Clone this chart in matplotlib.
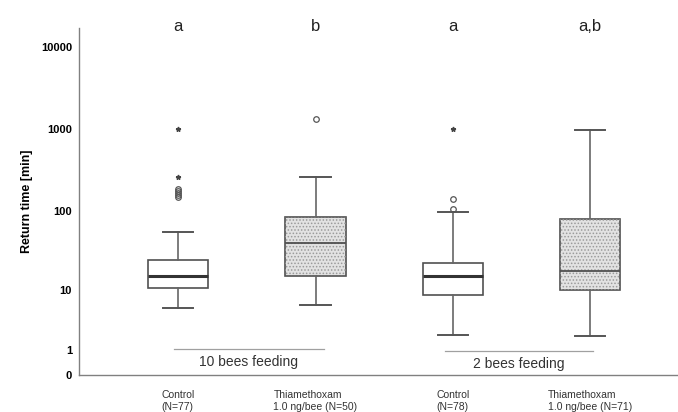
import numpy as np
import matplotlib
matplotlib.use("Agg")
import matplotlib.pyplot as plt
from matplotlib.patches import PathPatch
import matplotlib.transforms as mtransforms

plt.rcParams['font.family'] = ['Liberation Sans', 'DejaVu Sans']
plt.rcParams['hatch.linewidth'] = 0.7

# ---- data ----
categories = ["Control\n(N=77)", "Thiamethoxam\n1.0 ng/bee (N=50)",
              "Control\n(N=78)", "Thiamethoxam\n1.0 ng/bee (N=71)"]
whis_low = [5.5, 6.2, 2.06, 2.0]
q1 = [10.6, 15.1, 8.35, 10.0]
medians = [15.1, 40.0, 14.9, 17.3]
q3 = [24.1, 82.6, 22.5, 78.0]
whis_high = [55.0, 255.0, 95.0, 958.0]
outliers_circle = [[145, 155, 165, 175, 185], [1310], [104, 138], []]
outliers_star = [[255, 1000], [], [1000], []]
treated = [False, True, False, True]
letters = ["a", "b", "a", "a,b"]
groups = ["10 bees feeding", "2 bees feeding"]
group_span = [(0.97, 2.06), (2.94, 4.02)]
yticks = [0, 1, 10, 100, 1000, 10000]

fig = plt.figure(figsize=(6.78, 4.12), dpi=100)
ax = fig.add_axes([79/678, 37/412, 1 - 79/678, 347/412])

fwd = lambda x: np.log10(np.maximum(x, -0.999) + 1)
inv = lambda y: 10**y - 1
ax.set_yscale('function', functions=(fwd, inv))

positions = np.arange(1, len(categories) + 1)
stats = []
for i in range(len(categories)):
    stats.append(dict(med=medians[i], q1=q1[i], q3=q3[i],
                      whislo=whis_low[i], whishi=whis_high[i],
                      fliers=outliers_circle[i]))

edge = '#505050'
bp = ax.bxp(stats, positions=positions, widths=0.44, patch_artist=True,
            showfliers=True,
            boxprops=dict(edgecolor=edge, linewidth=1.2),
            whiskerprops=dict(color='#666666', linewidth=1.2),
            capprops=dict(color='#555555', linewidth=1.4),
            medianprops=dict(color='#3a3a3a', linewidth=1.2),
            flierprops=dict(marker='o', markersize=4, markerfacecolor='none',
                            markeredgecolor='#555555', markeredgewidth=0.9))

for i, box in enumerate(bp['boxes']):
    if treated[i]:
        box.set_facecolor('#e2e2e2')
        overlay = PathPatch(box.get_path(), transform=box.get_transform(),
                            facecolor='none', edgecolor='#9a9a9a',
                            linewidth=0, hatch='.....', zorder=box.get_zorder() + 0.1)
        ax.add_patch(overlay)
        bp['medians'][i].set_linewidth(1.3)
        bp['medians'][i].set_color('#505050')
    else:
        box.set_facecolor('white')
        bp['medians'][i].set_linewidth(2.2)
        bp['medians'][i].set_color('#333333')
    bp['medians'][i].set_zorder(5)

for i, stars in enumerate(outliers_star):
    if stars:
        ax.plot([positions[i]] * len(stars), stars, linestyle='none',
                marker='*', markersize=3.5, color='#444444')

ax.set_xlim(0.277, 4.64)
ax.set_ylim(0, inv(4.23))
ax.set_yticks(yticks)
ax.set_yticklabels([str(t) for t in yticks], fontsize=8, fontweight='bold')
ax.yaxis.set_minor_locator(matplotlib.ticker.NullLocator())
ax.tick_params(axis='y', length=0, pad=5)
ax.set_xticks(positions)
ax.set_xticklabels(categories, fontsize=7.5, color='#333333', multialignment='left')
ax.tick_params(axis='x', length=0, pad=11)
ax.set_ylabel("Return time [min]", fontsize=9, fontweight='bold', labelpad=6)

for s in ['top', 'right']:
    ax.spines[s].set_visible(False)
for s in ['left', 'bottom']:
    ax.spines[s].set_color('#808080')
    ax.spines[s].set_linewidth(1.0)

trans = mtransforms.blended_transform_factory(ax.transData, ax.transAxes)
for i, lab in enumerate(letters):
    ax.text(positions[i], 0.99, lab, transform=trans, ha='center', va='baseline',
            fontsize=12, color='#222222')

for (x0, x1), g, ly in zip(group_span, groups, [0.074, 0.069]):
    ax.plot([x0, x1], [ly, ly], transform=trans, color='#a0a0a0', linewidth=0.9,
            clip_on=False)
    ax.text((x0 + x1) / 2, ly - 0.037, g, transform=trans, ha='center',
            va='center', fontsize=10, color='#333333')

fig.savefig("out.png", dpi=100)
